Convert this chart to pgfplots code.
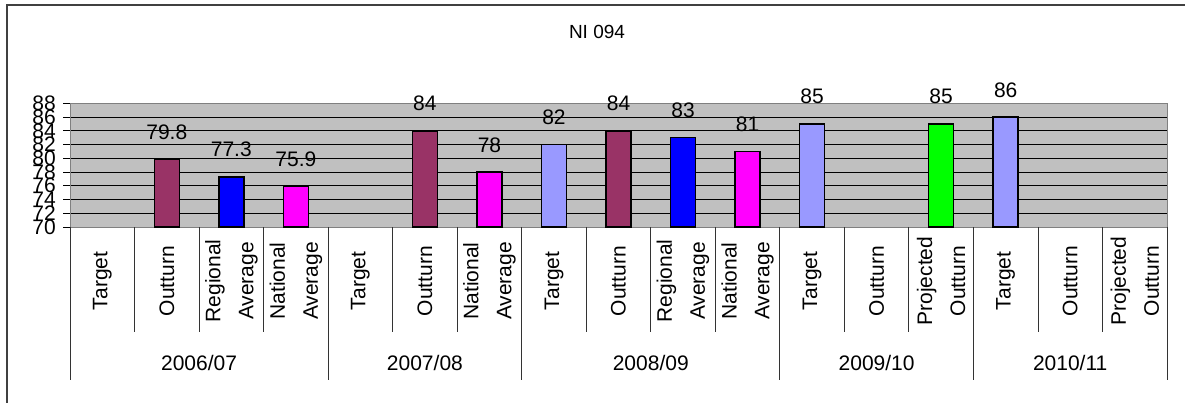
\documentclass[border=0pt]{standalone}
\usepackage{fontspec}
\setmainfont{Liberation Sans}
\usepackage{pgfplots}
\pgfplotsset{compat=1.18}
\definecolor{plotgrey}{HTML}{C0C0C0}
\definecolor{outturn}{HTML}{993366}
\definecolor{regional}{HTML}{0000FF}
\definecolor{national}{HTML}{FF00FF}
\definecolor{target}{HTML}{9999FF}
\definecolor{projected}{HTML}{00FF00}
\newcommand{\chartfont}{\fontsize{21}{33}\selectfont}

\begin{document}
\begin{tikzpicture}[x=1pt,y=1pt]
\useasboundingbox (0,0) rectangle (1185,402);
% chart frame (right and bottom edges fall outside the page)
\draw[line width=1.3pt, black!75] (7,-10) -- (7,397) -- (1190,397);
\node[font=\fontsize{19}{23}\selectfont] at (597,370) {NI 094};

\begin{axis}[
  at={(70pt,175pt)}, anchor=south west,
  scale only axis, width=1097pt, height=123.7pt,
  xmin=-0.5, xmax=16.5, ymin=70, ymax=88,
  ytick={70,72,...,88}, ytick pos=left,
  tick align=outside, major tick length=7pt,
  y tick style={black, line width=0.8pt},
  ymajorgrids, grid style={black, line width=0.8pt},
  axis background/.style={fill=plotgrey},
  axis line style={black!50, line width=1pt},
  xtick={0,...,16},
  x tick style={draw=none},
  xticklabels={Target, Outturn, Regional\\Average, National\\Average,
    Target, Outturn, National\\Average,
    Target, Outturn, Regional\\Average, National\\Average,
    Target, Outturn, Projected\\Outturn,
    Target, Outturn, Projected\\Outturn},
  xticklabel style={rotate=90, anchor=center, align=center, font=\chartfont},
  xticklabel shift=47pt,
  yticklabel style={font=\chartfont, inner sep=0pt, xshift=-7pt},
  /pgf/number format/assume math mode=true,
  ybar, bar width=25pt, clip mode=individual,
  nodes near coords,
  every node near coord/.append style={font=\chartfont, anchor=base, inner sep=0pt, yshift=20pt},
]
% Target
\addplot[bar shift=0pt, fill=target, draw=black, line width=1.5pt]
  coordinates {(7,82) (11,85) (14,86)};
% Outturn
\addplot[bar shift=0pt, fill=outturn, draw=black, line width=1.5pt]
  coordinates {(1,79.8) (5,84) (8,84)};
% Regional Average
\addplot[bar shift=0pt, fill=regional, draw=black, line width=1.5pt]
  coordinates {(2,77.3) (9,83)};
% National Average
\addplot[bar shift=0pt, fill=national, draw=black, line width=1.5pt]
  coordinates {(3,75.9) (6,78) (10,81)};
% Projected Outturn
\addplot[bar shift=0pt, fill=projected, draw=black, line width=1.5pt]
  coordinates {(13,85)};
\end{axis}

% category and year separators below the plot
\foreach \k in {0,...,17}
  \draw[black!80, line width=0.8pt] ({70+64.5294*\k},175) -- ++(0,-105);
\foreach \k in {0,4,7,11,14,17}
  \draw[black!80, line width=0.8pt] ({70+64.5294*\k},175) -- ({70+64.5294*\k},22);
\foreach \a/\b/\yr in {0/4/2006\slash 07, 4/7/2007\slash 08, 7/11/2008\slash 09,
    11/14/2009\slash 10, 14/17/2010\slash 11}
  \node[font=\chartfont] at ({70+64.5294*(\a+\b)/2},39) {\yr};
\end{tikzpicture}
\end{document}
